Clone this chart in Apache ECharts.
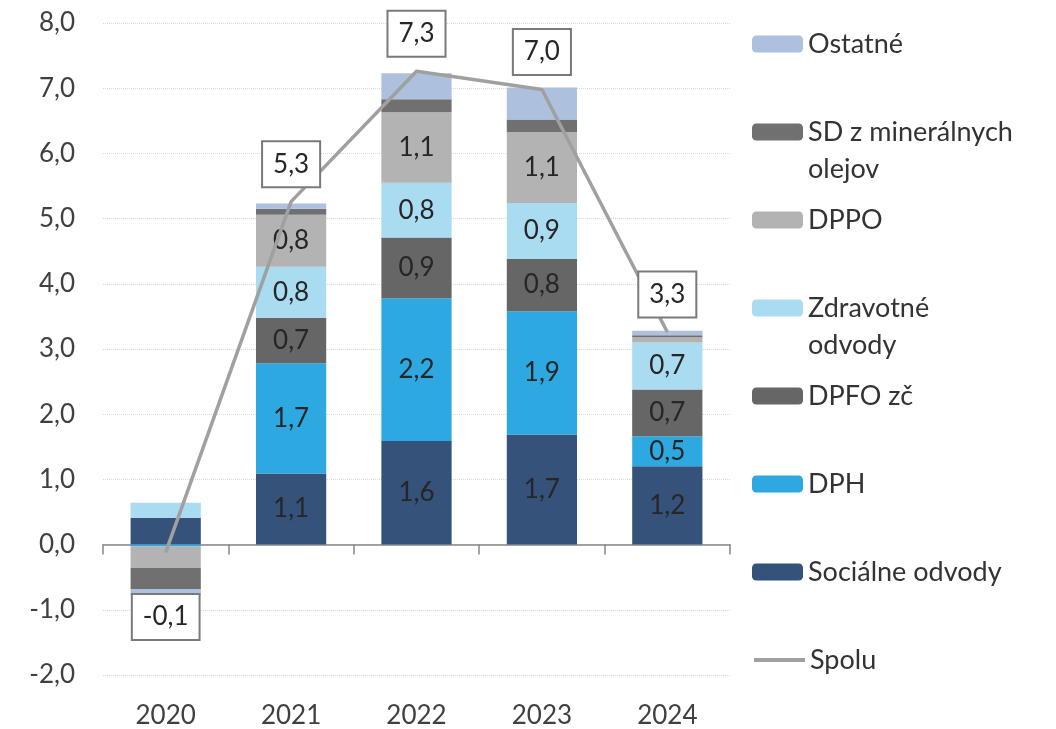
<!DOCTYPE html>
<html>
<head>
<meta charset="utf-8">
<script src="https://cdn.jsdelivr.net/npm/echarts@6/dist/echarts.min.js"></script>
<style>
  html, body { margin: 0; padding: 0; background: #fff; }
  #chart { width: 1056px; height: 729px; }
</style>
</head>
<body>
<div id="chart"></div>
<script>
const years = ['2020', '2021', '2022', '2023', '2024'];
const socialne = [0.41, 1.09, 1.59, 1.69, 1.20];
const dph = [-0.03, 1.69, 2.19, 1.89, 0.46];
const dpfo = [0, 0.70, 0.93, 0.80, 0.72];
const zdravotne = [0.23, 0.78, 0.84, 0.86, 0.72];
const dppo = [-0.33, 0.80, 1.08, 1.09, 0.08];
const sdMineral = [-0.32, 0.09, 0.20, 0.19, 0.03];
const ostatne = [-0.10, 0.08, 0.40, 0.49, 0.07];
const spolu = [-0.12, 5.26, 7.26, 6.98, 3.26];
const yTicks = [-2, -1, 0, 1, 2, 3, 4, 5, 6, 7, 8];

const FONT = 'Lato';
const fmt = v => v.toFixed(1).replace('.', ',');

const chart = echarts.init(document.getElementById('chart'));

const barDefs = [
  { name: 'Sociálne odvody', data: socialne, color: '#34527a', labels: true },
  { name: 'DPH', data: dph, color: '#2ea8e0', labels: true },
  { name: 'DPFO zč', data: dpfo, color: '#666666', labels: true },
  { name: 'Zdravotné odvody', data: zdravotne, color: '#a9dcf1', labels: true },
  { name: 'DPPO', data: dppo, color: '#b3b3b3', labels: true },
  { name: 'SD z minerálnych olejov', data: sdMineral, color: '#707070', labels: false },
  { name: 'Ostatné', data: ostatne, color: '#adc0dd', labels: false }
];

const barSeries = barDefs.map(d => ({
  type: 'bar',
  name: d.name,
  stack: 'total',
  data: d.data,
  barWidth: '56%',
  itemStyle: { color: d.color },
  label: {
    show: d.labels,
    position: 'inside',
    fontFamily: FONT,
    fontSize: 26,
    color: '#262626',
    formatter: p => Math.abs(p.value) >= 0.45 ? fmt(p.value) : ''
  }
}));

const lineSeries = {
  type: 'line',
  name: 'Spolu',
  data: spolu.map(v => ({
    value: v,
    label: v < 0 ? { position: 'bottom', distance: 42 } : { position: 'top', distance: 15 }
  })),
  symbol: 'circle',
  symbolSize: 1,
  z: 5,
  lineStyle: { color: '#a0a0a0', width: 3.5 },
  itemStyle: { color: '#a0a0a0' },
  label: {
    show: true,
    fontFamily: FONT,
    fontSize: 26,
    lineHeight: 28,
    color: '#262626',
    backgroundColor: '#fff',
    borderColor: '#7a7a7a',
    borderWidth: 2,
    padding: [8, 10],
    formatter: p => fmt(p.value)
  }
};

// legend layout: top to bottom
const legendItems = [
  { name: 'Ostatné', text: 'Ostatné' },
  { name: 'SD z minerálnych olejov', text: '\nSD z minerálnych\nolejov' },
  { name: 'DPPO', text: 'DPPO' },
  { name: 'Zdravotné odvody', text: '\nZdravotné\nodvody' },
  { name: 'DPFO zč', text: 'DPFO zč' },
  { name: 'DPH', text: 'DPH' },
  { name: 'Sociálne odvody', text: 'Sociálne odvody' },
  { name: 'Spolu', text: 'Spolu' }
];
const LH = 37;
const legends = legendItems.map((it, i) => {
  const lines = it.text.split('\n').length;
  const center = 44 + i * 88;
  const lg = {
    data: [it.name],
    orient: 'vertical',
    left: 752,
    top: center - lines * LH / 2,
    padding: 0,
    itemWidth: 51,
    itemHeight: 17,
    selectedMode: false,
    formatter: () => it.text,
    textStyle: { fontFamily: FONT, fontSize: 27, lineHeight: LH, color: '#333' }
  };
  if (it.name === 'Spolu') {
    lg.itemStyle = { opacity: 0 };
    lg.lineStyle = { width: 4, color: '#a0a0a0' };
  }
  return lg;
});

chart.setOption({
  animation: false,
  grid: { left: 103, right: 326, top: 23, bottom: 54 },
  legend: legends,
  xAxis: [
    {
      type: 'category',
      data: years,
      axisLine: { onZero: true, lineStyle: { color: '#868686', width: 1.5 } },
      axisTick: { show: true, length: 10, lineStyle: { color: '#868686', width: 1.5 } },
      axisLabel: { show: false }
    },
    {
      type: 'category',
      data: years,
      position: 'bottom',
      axisLine: { show: false },
      axisTick: { show: false },
      axisLabel: { fontFamily: FONT, fontSize: 26, color: '#404040', margin: 28 }
    }
  ],
  yAxis: {
    type: 'value',
    min: yTicks[0],
    max: yTicks[yTicks.length - 1],
    interval: 1,
    axisLine: { show: false },
    axisTick: { show: false },
    axisLabel: { fontFamily: FONT, fontSize: 26, color: '#404040', margin: 28, formatter: v => fmt(v) },
    splitLine: { lineStyle: { color: '#d9d9d9', type: 'dotted', width: 1 } }
  },
  series: [...barSeries, lineSeries]
});
</script>
</body>
</html>
